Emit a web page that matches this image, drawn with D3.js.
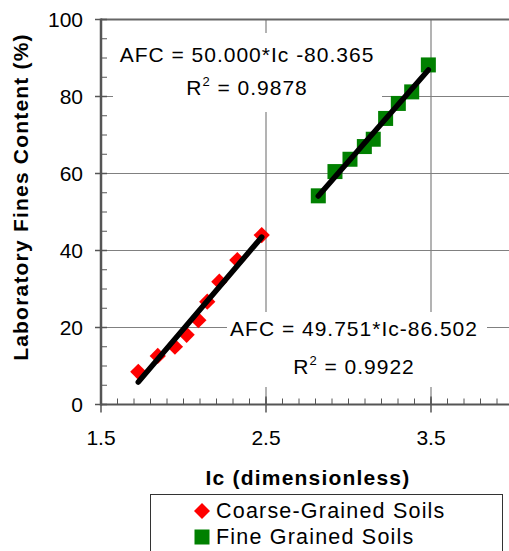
<!DOCTYPE html>
<html><head><meta charset="utf-8">
<script src="https://cdn.jsdelivr.net/npm/d3@7/dist/d3.min.js"></script>
<style>body{margin:0;background:#fff}svg{display:block}text{font-family:"Liberation Sans",Arial,sans-serif;fill:#000}</style>
</head><body>
<svg id="c" width="509" height="551"></svg>
<script>
const coarseIc = [1.726,1.844,1.948,2.019,2.090,2.144,2.217,2.326,2.474];
const coarseFC = [8.5,12.6,15.0,18.1,21.9,26.7,31.9,37.5,44.0];
const fineIc = [2.817,2.918,3.009,3.096,3.150,3.225,3.302,3.383,3.484];
const fineFC = [54.2,60.5,63.7,67.0,68.9,74.3,78.2,81.2,88.2];
const xTicks = [1.5,2.5,3.5];
const yTicks = [0,20,40,60,80,100];
const seriesNames = ["Coarse-Grained Soils","Fine Grained Soils"];
const eq1 = ["AFC = 50.000*Ic -80.365","0.9878"];
const eq2 = ["AFC = 49.751*Ic-86.502","0.9922"];

const svg = d3.select("#c");
const x = d3.scaleLinear().domain([1.5,4.0]).range([101,513.5]);
const y = d3.scaleLinear().domain([0,100]).range([404.5,19.5]);

// gridlines
const g = svg.append("g");
g.selectAll(".hg").data([20,40,60,80]).join("line")
  .attr("x1",x(1.5)).attr("x2",x(4.0)).attr("y1",d=>y(d)).attr("y2",d=>y(d))
  .attr("stroke","#808080").attr("stroke-width",1.2);
g.selectAll(".vg").data([2.5,3.5]).join("line")
  .attr("y1",y(0)).attr("y2",y(100)).attr("x1",d=>x(d)).attr("x2",d=>x(d))
  .attr("stroke","#808080").attr("stroke-width",1.2);

// annotation boxes
function annot(lines, bx, by, bw, bh, cx, b1, b2){
  svg.append("rect").attr("x",bx).attr("y",by).attr("width",bw).attr("height",bh).attr("fill","#fff");
  svg.append("text").attr("x",cx).attr("y",b1).attr("text-anchor","middle")
    .style("font-size","21px").style("letter-spacing","1px").text(lines[0]);
  const t = svg.append("text").attr("x",cx).attr("y",b2).attr("text-anchor","middle")
    .style("font-size","21px").style("letter-spacing","1px");
  t.append("tspan").text("R");
  t.append("tspan").attr("dy",-9).style("font-size","13px").text("2");
  t.append("tspan").attr("dy",9).text(" = "+lines[1]);
}
annot(eq1, 113, 33, 269, 79, 247, 62, 95);
annot(eq2, 227, 312, 260, 75, 354, 336, 374);

// axes
const ax = svg.append("g");
ax.append("line").attr("x1",x(1.5)).attr("x2",x(4.0)).attr("y1",y(0)).attr("y2",y(0)).attr("stroke","#555").attr("stroke-width",2);
ax.append("line").attr("x1",x(1.5)).attr("x2",x(4.0)).attr("y1",y(100)).attr("y2",y(100)).attr("stroke","#666").attr("stroke-width",2);
ax.append("line").attr("x1",x(1.5)).attr("x2",x(1.5)).attr("y1",y(0)+1).attr("y2",y(100)-1).attr("stroke","#555").attr("stroke-width",2.5);

const xMinor = d3.range(16,40).map(v=>v/10);
ax.selectAll(".xm").data(xMinor).join("line")
  .attr("x1",d=>x(d)).attr("x2",d=>x(d)).attr("y1",y(0)).attr("y2",y(0)-6)
  .attr("stroke","#555").attr("stroke-width",1);
ax.selectAll(".xM").data(xTicks).join("line")
  .attr("x1",d=>x(d)).attr("x2",d=>x(d)).attr("y1",y(0)-8).attr("y2",y(0)+8)
  .attr("stroke","#555").attr("stroke-width",1.5);
ax.selectAll(".xl").data(xTicks).join("text")
  .attr("x",d=>x(d)).attr("y",445).attr("text-anchor","middle").style("font-size","21px")
  .text(d=>d3.format(".1f")(d));

const yMinor = d3.range(5,100,5).filter(v=>v%20!==0);
ax.selectAll(".ym").data(yMinor).join("line")
  .attr("x1",x(1.5)).attr("x2",x(1.5)+6).attr("y1",d=>y(d)).attr("y2",d=>y(d))
  .attr("stroke","#555").attr("stroke-width",1);
ax.selectAll(".yM").data(yTicks).join("line")
  .attr("x1",x(1.5)-6).attr("x2",x(1.5)+6).attr("y1",d=>y(d)).attr("y2",d=>y(d))
  .attr("stroke","#555").attr("stroke-width",1.5);
ax.selectAll(".yl").data(yTicks).join("text")
  .attr("x",83).attr("y",d=>y(d)+7.5).attr("text-anchor","end").style("font-size","21px")
  .text(d=>d);

// titles
svg.append("text").attr("transform","translate(28,197) rotate(-90)").attr("text-anchor","middle")
  .style("font-size","21px").style("font-weight","bold").style("letter-spacing","1.2px")
  .text("Laboratory Fines Content (%)");
svg.append("text").attr("x",308).attr("y",485).attr("text-anchor","middle")
  .style("font-size","21px").style("font-weight","bold").style("letter-spacing","1.2px")
  .text("Ic (dimensionless)");

// markers
const coarse = coarseIc.map((v,i)=>({x:v,y:coarseFC[i]}));
const fine = fineIc.map((v,i)=>({x:v,y:fineFC[i]}));
const dia = d3.symbol().type(d3.symbolSquare).size(132);
svg.append("g").selectAll("path").data(coarse).join("path")
  .attr("d",dia).attr("transform",d=>`translate(${x(d.x)},${y(d.y)}) rotate(45)`).attr("fill","#ff0000");
svg.append("g").selectAll("rect").data(fine).join("rect")
  .attr("x",d=>x(d.x)-7.5).attr("y",d=>y(d.y)-7.5).attr("width",15).attr("height",15).attr("fill","#008000");

// trend lines (least squares)
function fit(pts){
  const mx=d3.mean(pts,d=>d.x), my=d3.mean(pts,d=>d.y);
  const b=d3.sum(pts,d=>(d.x-mx)*(d.y-my))/d3.sum(pts,d=>(d.x-mx)**2);
  const a=my-b*mx;
  const [x0,x1]=d3.extent(pts,d=>d.x);
  return [{x:x0,y:a+b*x0},{x:x1,y:a+b*x1}];
}
const ln = d3.line().x(d=>x(d.x)).y(d=>y(d.y));
[coarse,fine].forEach(p=>{
  svg.append("path").attr("d",ln(fit(p))).attr("stroke","#000").attr("stroke-width",5.5)
    .attr("stroke-linecap","round").attr("fill","none");
});

// legend
svg.append("rect").attr("x",150.5).attr("y",494.5).attr("width",352).attr("height",70)
  .attr("fill","#fff").attr("stroke","#333").attr("stroke-width",1);
svg.append("path").attr("d",d3.symbol().type(d3.symbolSquare).size(128)())
  .attr("transform","translate(202,511) rotate(45)").attr("fill","#ff0000");
svg.append("rect").attr("x",194.5).attr("y",529.5).attr("width",15).attr("height",15).attr("fill","#008000");
svg.append("text").attr("x",216).attr("y",518).style("font-size","21.5px").style("letter-spacing","1.2px").text(seriesNames[0]);
svg.append("text").attr("x",216).attr("y",544).style("font-size","21.5px").style("letter-spacing","1.2px").text(seriesNames[1]);
</script>
</body></html>
